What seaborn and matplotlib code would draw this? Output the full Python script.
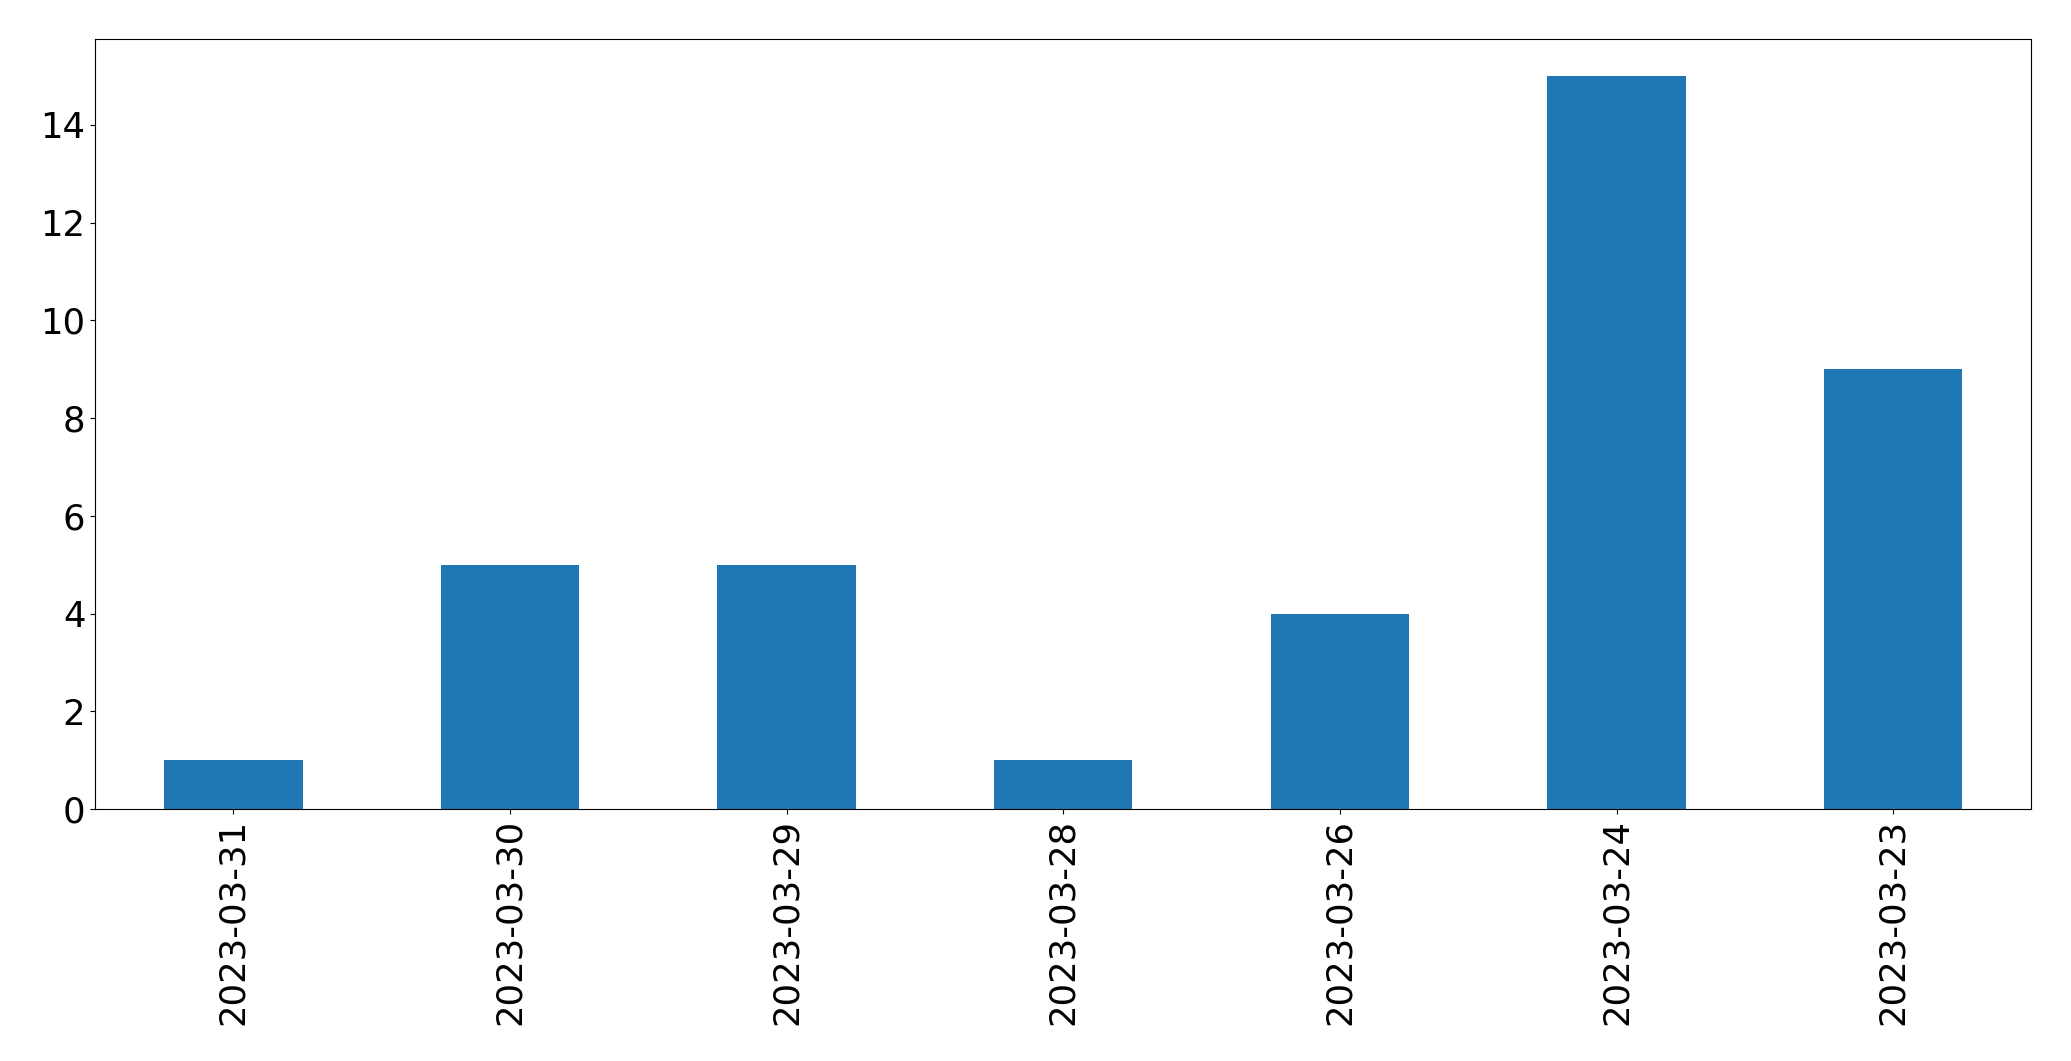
import matplotlib
matplotlib.use('Agg')
import matplotlib.pyplot as plt
import seaborn as sns
import pandas as pd

# ── data ─────────────────────────────────────────────────────────────────────
dates  = ['2023-03-31', '2023-03-30', '2023-03-29', '2023-03-28',
          '2023-03-26', '2023-03-24', '2023-03-23']
counts = [1, 5, 5, 1, 4, 15, 9]

df = pd.DataFrame({'date': dates, 'count': counts})

# ── plot ─────────────────────────────────────────────────────────────────────
sns.set_style('white')
plt.rcParams['font.family'] = ['DejaVu Sans']
plt.rcParams['text.color'] = 'black'
plt.rcParams['xtick.color'] = 'black'
plt.rcParams['ytick.color'] = 'black'

fig = plt.figure(figsize=(20.71, 10.61), dpi=100)
ax = fig.add_axes([0.0459, 0.2375, 0.935, 0.7255])

sns.barplot(data=df, x='date', y='count', order=dates, color='#1f77b4',
            saturation=1, width=0.5, linewidth=0, ax=ax)

ax.set_xlim(-0.5, len(dates) - 0.5)
ax.set_ylim(0, max(counts) * 1.05)
ax.set_xlabel('')
ax.set_ylabel('')
ax.tick_params(axis='both', labelsize=25.5, length=3.5, width=0.8,
               left=True, bottom=True, colors='black')
ax.tick_params(axis='x', labelrotation=90)
for spine in ax.spines.values():
    spine.set_visible(True)
    spine.set_edgecolor('black')
    spine.set_linewidth(0.8)

fig.savefig('out.png', dpi=100, facecolor='white')
